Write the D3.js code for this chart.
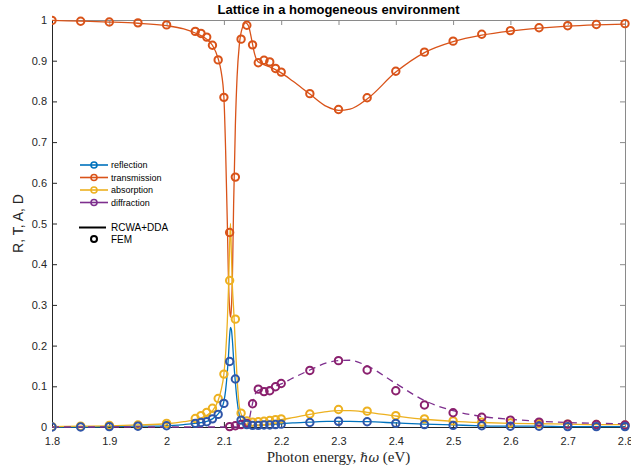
<!DOCTYPE html>
<html><head><meta charset="utf-8">
<script src="https://cdn.jsdelivr.net/npm/d3@7/dist/d3.min.js"></script>
<style>body{margin:0;background:#fff;} svg{display:block;}</style>
</head><body><svg id="c" width="631" height="471"></svg>
<script>
// ---- data ----
const seriesNames = ["reflection", "transmission", "absorption", "diffraction"];
const xTicks = [1.8,1.9,2.0,2.1,2.2,2.3,2.4,2.5,2.6,2.7,2.8];
const xTickLabels = ["1.8","1.9","2","2.1","2.2","2.3","2.4","2.5","2.6","2.7","2.8"];
const yTicks = [0,0.1,0.2,0.3,0.4,0.5,0.6,0.7,0.8,0.9,1];
const yTickLabels = ["0","0.1","0.2","0.3","0.4","0.5","0.6","0.7","0.8","0.9","1"];

// FEM points
const femX = [1.8,1.85,1.9,1.95,2.0,2.05,2.06,2.07,2.08,2.09,2.1,2.11,2.12,2.13,2.14,2.15,2.16,2.17,2.18,2.19,2.2,2.25,2.3,2.35,2.4,2.45,2.5,2.55,2.6,2.65,2.7,2.75,2.8];
const femR = [0.000,0.000,0.001,0.002,0.003,0.009,0.011,0.013,0.020,0.031,0.058,0.161,0.118,0.017,0.006,0.004,0.004,0.005,0.005,0.006,0.007,0.011,0.014,0.013,0.009,0.006,0.004,0.003,0.002,0.002,0.001,0.001,0.001];
const femT = [0.999,0.997,0.995,0.993,0.988,0.972,0.967,0.958,0.938,0.902,0.810,0.478,0.614,0.953,0.987,0.939,0.895,0.901,0.897,0.881,0.872,0.819,0.780,0.809,0.874,0.921,0.948,0.965,0.974,0.981,0.986,0.989,0.991];
const femA = [0.001,0.002,0.004,0.005,0.009,0.021,0.028,0.036,0.046,0.070,0.130,0.360,0.265,0.034,0.015,0.012,0.013,0.014,0.016,0.018,0.020,0.032,0.043,0.039,0.028,0.020,0.015,0.012,0.010,0.008,0.007,0.006,0.005];
const femD = [null,null,null,null,null,null,null,null,null,null,null,0.001,0.003,0.006,0.009,0.057,0.093,0.087,0.089,0.099,0.107,0.139,0.163,0.140,0.089,0.054,0.035,0.024,0.017,0.012,0.007,0.006,0.005];

// RCWA+DDA curves
const lineX = [1.8,1.85,1.9,1.95,2.0,2.03,2.05,2.07,2.08,2.09,2.095,2.1,2.103,2.106,2.108,2.11,2.1115,2.113,2.115,2.117,2.12,2.123,2.127,2.132,2.138,2.143,2.148,2.153,2.158,2.165,2.18,2.2,2.22,2.25,2.28,2.3,2.32,2.35,2.4,2.45,2.5,2.55,2.6,2.65,2.7,2.75,2.8];
const lineR = [0.000,0.000,0.001,0.002,0.003,0.006,0.009,0.014,0.020,0.032,0.043,0.063,0.090,0.135,0.175,0.225,0.245,0.240,0.210,0.165,0.110,0.065,0.028,0.010,0.004,0.003,0.003,0.004,0.004,0.005,0.006,0.008,0.010,0.012,0.014,0.014,0.014,0.013,0.010,0.007,0.005,0.003,0.002,0.002,0.001,0.001,0.001];
const lineT = [0.999,0.997,0.995,0.992,0.986,0.978,0.968,0.953,0.938,0.905,0.875,0.810,0.680,0.500,0.360,0.290,0.270,0.290,0.380,0.550,0.740,0.860,0.940,0.980,0.993,0.985,0.955,0.920,0.900,0.893,0.885,0.870,0.850,0.818,0.787,0.778,0.781,0.806,0.872,0.920,0.947,0.963,0.973,0.980,0.985,0.988,0.990];
const lineA = [0.001,0.002,0.003,0.005,0.008,0.013,0.018,0.029,0.040,0.065,0.090,0.130,0.180,0.260,0.340,0.450,0.500,0.430,0.340,0.290,0.200,0.120,0.050,0.025,0.015,0.012,0.012,0.012,0.012,0.013,0.015,0.018,0.023,0.031,0.038,0.040,0.040,0.036,0.027,0.019,0.014,0.011,0.009,0.008,0.007,0.006,0.006];
const lineD = [0,0,0,0,0,0,0,0,0,0,0,0,0,0,0,0,0,0,0,0,0,0,0,0,0,0.012,0.045,0.075,0.088,0.093,0.097,0.106,0.120,0.140,0.158,0.163,0.164,0.150,0.107,0.065,0.040,0.026,0.019,0.014,0.011,0.009,0.008];

const colors = ["#0072BD","#D95319","#EDB120","#7E2F8E"];
const markerColors = ["#2F55A8","#D95319","#EDB120","#8A206E"];

// ---- chart ----
const svg = d3.select("#c");
const L=52, R=625, T=20, B=427;
const x = d3.scaleLinear().domain([1.8,2.8]).range([L,R]);
const y = d3.scaleLinear().domain([0,1]).range([B,T]);
const axisColor = "#262626";
const font = "Liberation Sans, Arial, Helvetica, sans-serif";

svg.append("defs").append("clipPath").attr("id","clip")
  .append("rect").attr("x",L).attr("y",T-6).attr("width",R-L+6).attr("height",B-T+12);

// axes
const gx = svg.append("g").attr("transform",`translate(0,${B})`)
  .call(d3.axisBottom(x).tickValues(xTicks).tickFormat((d,i)=>xTickLabels[i]).tickSizeInner(-5).tickSizeOuter(0).tickPadding(10));
const gxt = svg.append("g").attr("transform",`translate(0,${T})`)
  .call(d3.axisTop(x).tickValues(xTicks).tickFormat("").tickSizeInner(-5).tickSizeOuter(0));
const gy = svg.append("g").attr("transform",`translate(${L},0)`)
  .call(d3.axisLeft(y).tickValues(yTicks).tickFormat((d,i)=>yTickLabels[i]).tickSizeInner(-5).tickSizeOuter(0).tickPadding(5));
const gyr = svg.append("g").attr("transform",`translate(${R},0)`)
  .call(d3.axisRight(y).tickValues(yTicks).tickFormat("").tickSizeInner(-5).tickSizeOuter(0));
[gx,gy].forEach(g=>{
  g.selectAll("path,line").attr("stroke",axisColor).attr("stroke-width",1);
  g.selectAll("text").attr("fill",axisColor).attr("font-family",font).attr("font-size",11);
});
[gxt,gyr].forEach(g=>{
  g.selectAll("path,line").attr("stroke","#8a8a8a").attr("stroke-width",1);
});

// lines
const plot = svg.append("g").attr("clip-path","url(#clip)");
const lineData = [lineR,lineT,lineA,lineD];
const lineGen = d3.line().x(d=>x(d[0])).y(d=>y(d[1])).curve(d3.curveMonotoneX);
lineData.forEach((vals,i)=>{
  plot.append("path")
    .attr("d", lineGen(lineX.map((xv,j)=>[xv,vals[j]])))
    .attr("fill","none").attr("stroke",colors[i]).attr("stroke-width",1.3)
    .attr("stroke-dasharray", i===3 ? "7,5" : null);
});

// FEM circles: draw T, A, D, then R on top
const femData = [femR,femT,femA,femD];
[1,2,3,0].forEach(i=>{
  const pts = femX.map((xv,j)=>[xv,femData[i][j]]).filter(d=>d[1]!==null);
  plot.append("g").selectAll("circle").data(pts).join("circle")
    .attr("cx",d=>x(d[0])).attr("cy",d=>y(d[1])).attr("r",3.7)
    .attr("fill","none").attr("stroke",markerColors[i]).attr("stroke-width",2);
});

// title
svg.append("text").attr("x",(L+R)/2).attr("y",14).attr("text-anchor","middle")
  .attr("font-family",font).attr("font-weight","bold").attr("font-size",13).attr("fill","#000")
  .text("Lattice in a homogeneous environment");

// y label
svg.append("text").attr("transform",`translate(23,${(T+B)/2}) rotate(-90)`).attr("text-anchor","middle")
  .attr("font-family",font).attr("font-size",14).attr("fill",axisColor).text("R, T, A, D");

// x label
const xl = svg.append("text").attr("x",(L+R)/2).attr("y",462).attr("text-anchor","middle")
  .attr("font-family","Liberation Serif, DejaVu Serif, serif").attr("font-size",15).attr("fill",axisColor);
xl.append("tspan").text("Photon energy, ");
xl.append("tspan").attr("font-family","DejaVu Serif, serif").attr("font-style","italic").attr("font-size",13).text("ℏω");
xl.append("tspan").text(" (eV)");

// legend
const lg = svg.append("g");
seriesNames.forEach((name,i)=>{
  const yy = 165 + i*12.5;
  lg.append("line").attr("x1",80).attr("x2",108).attr("y1",yy).attr("y2",yy)
    .attr("stroke",colors[i]).attr("stroke-width",1.6);
  lg.append("circle").attr("cx",94).attr("cy",yy).attr("r",3).attr("fill","none")
    .attr("stroke",colors[i]).attr("stroke-width",1.6);
  lg.append("text").attr("x",111).attr("y",yy).attr("dy","0.35em")
    .attr("font-family",font).attr("font-size",9).attr("fill","#000").text(name);
});
lg.append("line").attr("x1",79).attr("x2",106).attr("y1",227.5).attr("y2",227.5)
  .attr("stroke","#000").attr("stroke-width",2);
lg.append("text").attr("x",111).attr("y",227.5).attr("dy","0.35em")
  .attr("font-family",font).attr("font-size",10).attr("fill","#000").text("RCWA+DDA");
lg.append("circle").attr("cx",94).attr("cy",239).attr("r",3).attr("fill","none")
  .attr("stroke","#000").attr("stroke-width",2);
lg.append("text").attr("x",111).attr("y",239).attr("dy","0.35em")
  .attr("font-family",font).attr("font-size",10).attr("fill","#000").text("FEM");
</script>
</body></html>
